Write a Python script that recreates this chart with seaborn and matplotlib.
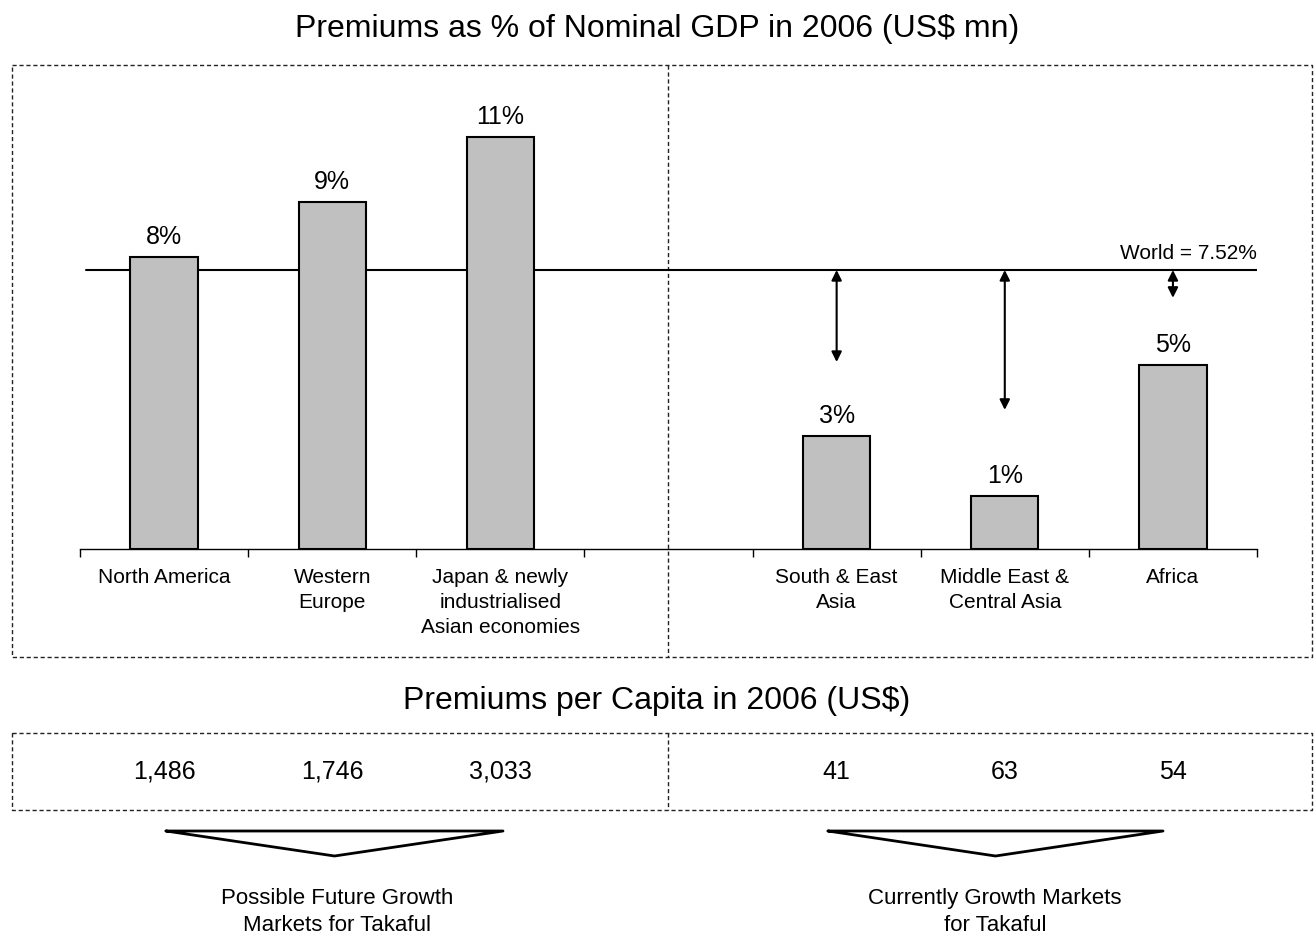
import numpy as np
import pandas as pd
import seaborn as sns
import matplotlib.pyplot as plt
from matplotlib.transforms import blended_transform_factory

sns.set_style("white")
plt.rcParams['font.family'] = ['Liberation Sans', 'DejaVu Sans']
plt.rcParams['text.color'] = 'black'
plt.rcParams['xtick.labelcolor'] = 'black'

# data
regions = ['North America', 'Western Europe', 'Japan & newly industrialised Asian economies',
           'South & East Asia', 'Middle East & Central Asia', 'Africa']
tick_text = ['North America', 'Western\nEurope', 'Japan & newly\nindustrialised\nAsian economies', '',
             'South & East\nAsia', 'Middle East &\nCentral Asia', 'Africa']
order = regions[:3] + ['gap'] + regions[3:]
pct_gdp = [7.87, 9.35, 11.1, 3.05, 1.43, 4.96]
pct_labels = ['8%', '9%', '11%', '3%', '1%', '5%']
per_capita = ['1,486', '1,746', '3,033', '41', '63', '54']
world = 7.52
arrow_ends = [5.04, 3.75, 6.77]   # where the gap arrows stop (S&E Asia, ME, Africa)

df = pd.DataFrame({'region': regions, 'pct': pct_gdp})

W, H = 1314, 936
fig = plt.figure(figsize=(W / 100, H / 100), dpi=100)

# overlay in pixel coords for the frames and captions
ov = fig.add_axes([0, 0, 1, 1])
ov.set_xlim(0, W)
ov.set_ylim(H, 0)
ov.axis('off')

ax = fig.add_axes([80 / W, (H - 549) / H, (1257 - 80) / W, (549 - 103.8) / H])
ax.set_facecolor('none')

ax.axhline(world, xmin=0.005, xmax=1, color='black', lw=1.5, zorder=1)
sns.barplot(data=df, x='region', y='pct', order=order, color='#c0c0c0',
            edgecolor='black', linewidth=1.5, width=0.4, errorbar=None,
            saturation=1, ax=ax, zorder=2)
ax.bar_label(ax.containers[0], labels=pct_labels, padding=6, fontsize=18)

ax.set_xlim(-0.5, 6.5)
ax.set_ylim(0, 12)
ax.set_xticks(range(7), tick_text, fontsize=15, linespacing=1.4, va='top')
ax.set_xticks(np.arange(-0.5, 7, 1), minor=True)
ax.tick_params(axis='x', which='major', length=0, pad=14)
ax.tick_params(axis='x', which='minor', length=6, width=1, color='black', direction='out', bottom=True)
ax.set_yticks([])
ax.set_xlabel('')
ax.set_ylabel('')
for s in ['top', 'left', 'right']:
    ax.spines[s].set_visible(False)
ax.spines['bottom'].set_color('black')
ax.spines['bottom'].set_linewidth(1)

ax.text(6.5, world + 0.2, 'World = 7.52%', ha='right', va='bottom', fontsize=15)
for xi, yend in zip([4, 5, 6], arrow_ends):
    ax.annotate('', xy=(xi, yend), xytext=(xi, world),
                arrowprops=dict(arrowstyle='<|-|>', color='black', lw=1.5,
                                mutation_scale=15, shrinkA=0, shrinkB=0))

# titles
ov.text(W / 2, 29, 'Premiums as % of Nominal GDP in 2006 (US$ mn)', ha='center', va='center', fontsize=23)
ov.text(W / 2, 701, 'Premiums per Capita in 2006 (US$)', ha='center', va='center', fontsize=23)

dash = dict(color='#222222', lw=1, ls=(0, (3, 2)))
# dashed frames
for top, bot in [(65, 657), (733, 810)]:
    ov.plot([12, 1312, 1312, 12, 12], [top, top, bot, bot, top], **dash)
    ov.plot([668, 668], [top, bot], **dash)

# per capita numbers aligned with the bars
tr = blended_transform_factory(ax.transData, ov.transData)
for xi, txt in zip([0, 1, 2, 4, 5, 6], per_capita):
    ov.text(xi, 772, txt, transform=tr, ha='center', va='center', fontsize=18)

# down pointing triangles
for x0, x1 in [(166, 503), (828, 1163)]:
    ov.plot([x0, x1, (x0 + x1) / 2, x0], [831, 831, 856, 831], color='black', lw=2)

ov.text(337, 912, 'Possible Future Growth\nMarkets for Takaful', ha='center', va='center',
        fontsize=16, linespacing=1.4)
ov.text(995, 912, 'Currently Growth Markets\nfor Takaful', ha='center', va='center',
        fontsize=16, linespacing=1.4)

fig.savefig('out.png', dpi=100)
